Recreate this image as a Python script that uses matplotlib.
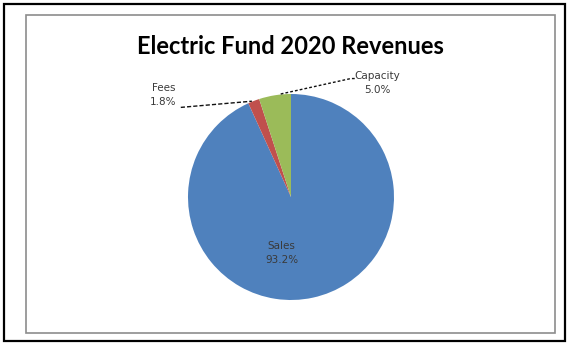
import numpy as np
import matplotlib.pyplot as plt
from matplotlib.patches import Rectangle

# Revenue shares (percent)
categories = ['Sales', 'Fees', 'Capacity']
shares = [93.2, 1.8, 5.0]
colors = ['#4F81BD', '#C0504D', '#9BBB59']

W, H = 569, 345
fig = plt.figure(figsize=(W / 100, H / 100), dpi=100)
fig.patch.set_facecolor('white')

# Outer frame and chart area border
fig.patches.append(Rectangle((4 / W, 4 / H), 561 / W, 337 / H, transform=fig.transFigure,
                             fill=False, edgecolor='black', linewidth=1.6))
fig.patches.append(Rectangle((26 / W, 12 / H), 529 / W, 318 / H, transform=fig.transFigure,
                             fill=False, edgecolor='#8c8c8c', linewidth=1.2))

fig.text(290 / W, 1 - 46 / H, 'Electric Fund 2020 Revenues', ha='center', va='center',
         fontsize=17, fontweight='bold', family='Lato', color='black')

# Pie axes: centre (291, 197) px, radius 103 px
cx, cy, r = 291, 197, 103
ax = fig.add_axes([(cx - r) / W, 1 - (cy + r) / H, 2 * r / W, 2 * r / H])
ax.pie(shares, colors=colors, startangle=90, counterclock=False,
       wedgeprops=dict(linewidth=0))
ax.set_xlim(-1, 1)
ax.set_ylim(-1, 1)
ax.set_aspect('equal')
ax.axis('off')

lab_style = dict(ha='center', va='center', fontsize=7.5, family='DejaVu Sans',
                 color='#3a3a3a', linespacing=1.5)

# Sales label inside the slice
ax.text(-0.09, -0.54, f'{categories[0]}\n{shares[0]:.1f}%', **lab_style)

# Fees label with leader line
ax.text(-1.24, 0.99, f'{categories[1]}\n{shares[1]:.1f}%', clip_on=False, **lab_style)
ax.plot([-1.07, -0.38], [0.87, 0.93], color='#111111', linewidth=1.0,
        dashes=(3, 1.5), clip_on=False)

# Capacity label with leader line
ax.text(0.84, 1.11, f'{categories[2]}\n{shares[2]:.1f}%', clip_on=False, **lab_style)
ax.plot([-0.1, 0.58, 0.62], [1.0, 1.15, 1.15], color='#111111', linewidth=1.0,
        dashes=(2, 1.5), clip_on=False)

fig.savefig('out.png', dpi=100)
